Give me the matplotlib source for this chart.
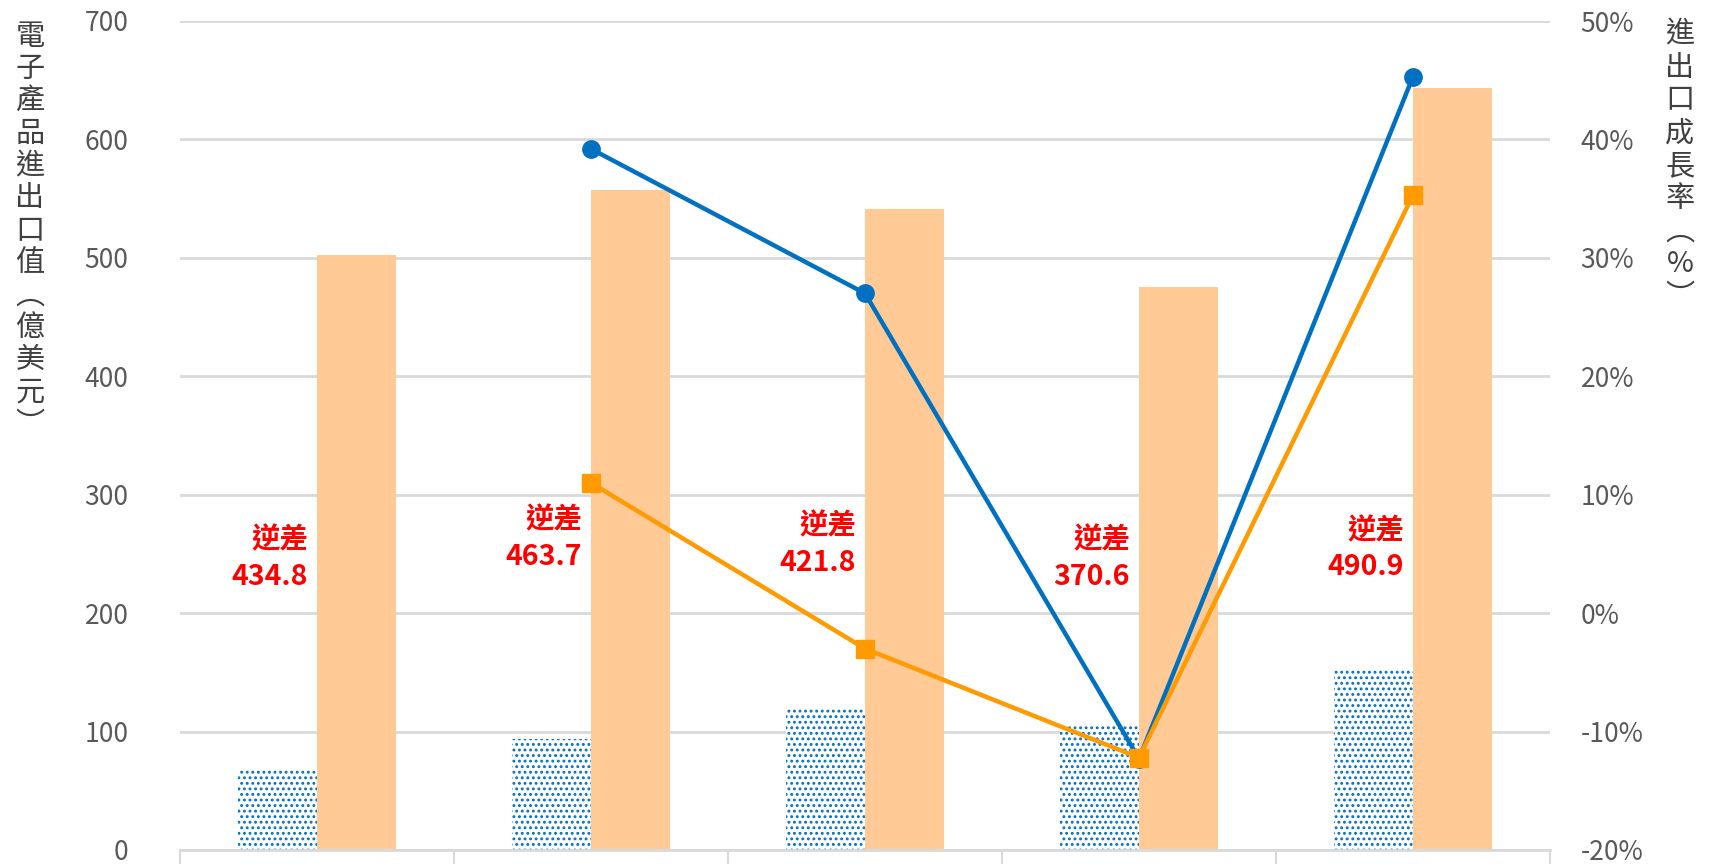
import matplotlib
matplotlib.use("Agg")
import matplotlib.pyplot as plt
import numpy as np

plt.rcParams['font.family'] = ['Noto Sans CJK TC', 'DejaVu Sans']
plt.rcParams['hatch.linewidth'] = 1.3

# data
exports = [67.5, 94.0, 119.5, 105.0, 152.5]        # 億美元, blue dotted bars
imports = [502.3, 557.7, 541.3, 475.6, 643.4]      # 億美元, orange bars
export_growth = [np.nan, 39.2, 27.0, -12.3, 45.3]  # %, blue line
import_growth = [np.nan, 11.0, -3.0, -12.2, 35.3]  # %, orange line
deficit = [434.8, 463.7, 421.8, 370.6, 490.9]

# layout of the deficit labels (left axis units)
label_y = [246, 263, 258, 246, 254]

BLUE = '#0070C0'
ORANGE = '#FF9A00'
PEACH = '#FFCA96'
GRID = '#D9D9D9'
TICK = '#595959'

x = np.arange(len(exports))
w = 0.288

fig = plt.figure(figsize=(17.09, 8.64), dpi=100)
ax = fig.add_axes([180 / 1709, 14 / 864, 1370 / 1709, 829 / 864])
ax2 = ax.twinx()

ax.bar(x - w / 2, exports, w, facecolor='white', edgecolor=BLUE, hatch='...',
       linewidth=0, zorder=2)
ax.bar(x + w / 2, imports, w, color=PEACH, linewidth=0, zorder=2)

ax2.plot(x, export_growth, color=BLUE, lw=3.2, marker='o', markersize=12.5, zorder=5)
ax2.plot(x, import_growth, color=ORANGE, lw=3.2, marker='s', markersize=13.5, zorder=6)

for i, (d, ly) in enumerate(zip(deficit, label_y)):
    ax.text(x[i] - 0.033, ly, "逆差\n%.1f" % d, color='#FF0000', fontsize=20.5,
            fontweight='bold', ha='right', va='center', multialignment='right',
            linespacing=1.38, zorder=7)

ax.set_xlim(-0.5, len(exports) - 0.5)
ax.set_ylim(0, 700)
ax.set_yticks(range(0, 701, 100))
ax2.set_ylim(-20, 50)
ax2.set_yticks(range(-20, 51, 10))
ax2.set_yticklabels(["%d%%" % v for v in range(-20, 51, 10)])

ax.yaxis.grid(True, color=GRID, lw=2, zorder=0)
ax.set_axisbelow(True)

ax.set_xticks(np.arange(-0.5, len(exports)))
ax.set_xticklabels([])
ax.tick_params(axis='x', length=10, width=1.5, color=GRID)
ax.tick_params(axis='y', length=0, pad=37, labelsize=19, labelcolor=TICK)
ax2.tick_params(axis='y', length=0, pad=22, labelsize=19, labelcolor=TICK)

for a in (ax, ax2):
    for s in ('top', 'left', 'right'):
        a.spines[s].set_visible(False)
    a.spines['bottom'].set_color(GRID)
    a.spines['bottom'].set_linewidth(2)
ax2.spines['bottom'].set_visible(False)

left_label = "\n".join(list("電子產品進出口值") + ["︵"] + list("億美元") + ["︶"])
right_label = "\n".join(list("進出口成長率") + ["︵", "%", "︶"])
fig.text(30 / 1709, 1 - 22 / 864, left_label, ha='center', va='top', fontsize=21,
         color='#404040', linespacing=1.1, fontweight='light')
fig.text(1680 / 1709, 1 - 20 / 864, right_label, ha='center', va='top', fontsize=21,
         color='#404040', linespacing=1.12, fontweight='light')

fig.savefig("out.png", dpi=100)
